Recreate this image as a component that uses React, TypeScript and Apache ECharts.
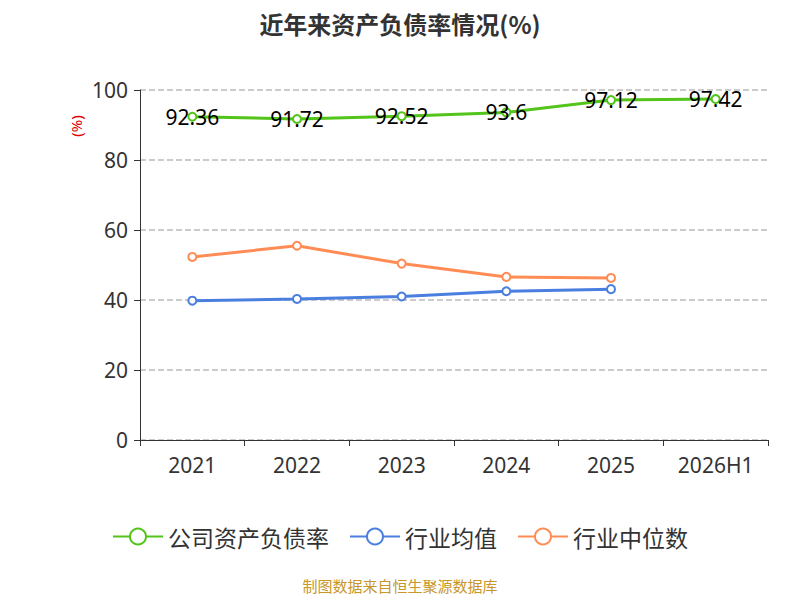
import React, { useEffect, useRef } from "react";
import * as echarts from "echarts";

const years = ["2021", "2022", "2023", "2024", "2025", "2026H1"];
const companyRatio = [92.36, 91.72, 92.52, 93.6, 97.12, 97.42];
const industryAvg = [39.8, 40.3, 41.0, 42.5, 43.1];
const industryMedian = [52.3, 55.5, 50.4, 46.6, 46.3];

const App: React.FC = () => {
  const chartRef = useRef<HTMLDivElement | null>(null);

  useEffect(() => {
    if (!chartRef.current) return;
    const chart = echarts.init(chartRef.current, null, { renderer: "svg" });
    const font = "'Noto Sans', 'Noto Sans CJK SC', sans-serif";
    chart.setOption({
      animation: false,
      textStyle: { fontFamily: font },
      title: {
        text: "近年来资产负债率情况(%)",
        left: "center",
        top: 6,
        textStyle: { fontSize: 24, fontWeight: "bold", color: "#333", fontFamily: "'Noto Sans CJK SC', sans-serif" },
      },
      grid: { left: 140, right: 32, top: 90, bottom: 160 },
      xAxis: {
        type: "category",
        data: years,
        boundaryGap: true,
        axisLine: { lineStyle: { color: "#333" } },
        axisTick: { show: true, length: 6, lineStyle: { color: "#333" } },
        axisLabel: { fontSize: 21, color: "#333", margin: 14 },
      },
      yAxis: {
        type: "value",
        min: 0,
        max: 100,
        interval: 20,
        axisLine: { show: true, lineStyle: { color: "#333" } },
        axisTick: { show: true, length: 6, lineStyle: { color: "#333" } },
        axisLabel: { fontSize: 21, color: "#333", margin: 12 },
        splitLine: { lineStyle: { color: "#bbb", type: "dashed", width: 1.5 } },
      },
      legend: {
        top: 520,
        left: "center",
        itemWidth: 50,
        itemHeight: 20,
        itemGap: 20,
        textStyle: { fontSize: 23, color: "#333", fontFamily: "'Noto Sans CJK SC', sans-serif" },
        data: ["公司资产负债率", "行业均值", "行业中位数"],
      },
      graphic: [
        {
          type: "text",
          x: 76,
          y: 126,
          rotation: Math.PI / 2,
          style: { text: "(%)", fill: "#e00000", fontSize: 15, fontFamily: font, align: "center", verticalAlign: "middle" },
        },
        {
          type: "text",
          left: "center",
          top: 578,
          style: { text: "制图数据来自恒生聚源数据库", fill: "#c8962a", fontSize: 15, fontFamily: "'Noto Sans CJK SC', sans-serif" },
        },
      ],
      series: [
        {
          name: "公司资产负债率",
          type: "line",
          data: companyRatio,
          color: "#52c41a",
          symbol: "circle",
          symbolSize: 8,
          itemStyle: { color: "#fff", borderColor: "#52c41a", borderWidth: 2 },
          lineStyle: { color: "#52c41a", width: 3 },
          label: { show: true, position: "inside", fontSize: 21, color: "#000" },
        },
        {
          name: "行业均值",
          type: "line",
          data: industryAvg,
          color: "#4a7fe0",
          symbol: "circle",
          symbolSize: 8,
          itemStyle: { color: "#fff", borderColor: "#4a7fe0", borderWidth: 2 },
          lineStyle: { color: "#4a7fe0", width: 3 },
        },
        {
          name: "行业中位数",
          type: "line",
          data: industryMedian,
          color: "#ff8c55",
          symbol: "circle",
          symbolSize: 8,
          itemStyle: { color: "#fff", borderColor: "#ff8c55", borderWidth: 2 },
          lineStyle: { color: "#ff8c55", width: 3 },
        },
      ],
    });
    return () => chart.dispose();
  }, []);

  return <div ref={chartRef} style={{ position: "absolute", left: 0, top: 0, width: 800, height: 600 }} />;
};

export default App;
